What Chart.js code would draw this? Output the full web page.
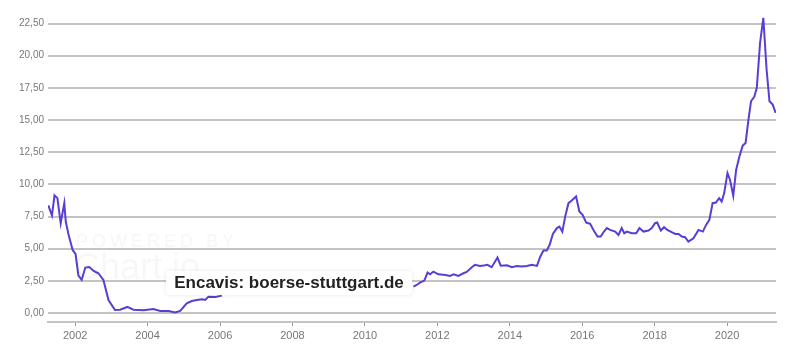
<!DOCTYPE html>
<html>
    <head>
        <title>Encavis Kursverlauf</title>
        <script src="https://cdn.jsdelivr.net/npm/chart.js@4.4.1/dist/chart.umd.min.js"></script>
        <style>
            body { margin: 0; background: #fff; font-family: "Liberation Sans", Arial, sans-serif; }
            #wrap { position: relative; width: 799px; height: 354px; }
            #source {
                position: absolute; left: 166px; top: 271px; width: 246px; height: 24px;
                background: #fff; box-shadow: 0 0 4px rgba(0,0,0,0.10); border-radius: 3px;
                font-weight: bold; font-size: 17px; color: #222; line-height: 24px; text-align: center;
            }
            #wm1 { position: absolute; left: 76px; top: 231px; font-size: 18px; letter-spacing: 4px; color: rgba(0,0,0,0.035); }
            #wm2 { position: absolute; left: 74px; top: 246px; font-size: 36px; color: rgba(0,0,0,0.03); }
        </style>
        <script type="text/javascript">
            // Encavis share price (EUR); null = no data (2006 - 2011)
            const years = [
                2001.26, 2001.36, 2001.43, 2001.51, 2001.60, 2001.70, 2001.74, 2001.82, 2001.93, 2002.01,
                2002.09, 2002.18, 2002.28, 2002.39, 2002.51, 2002.64, 2002.78, 2002.92, 2003.10, 2003.24,
                2003.44, 2003.61, 2003.89, 2004.16, 2004.35, 2004.58, 2004.76, 2004.90, 2005.08, 2005.22,
                2005.36, 2005.50, 2005.59, 2005.68, 2005.87, 2006.05,
                2008.50,
                2011.34, 2011.43, 2011.52, 2011.64, 2011.73, 2011.80, 2011.89, 2012.03, 2012.22, 2012.35,
                2012.45, 2012.58, 2012.72, 2012.81, 2012.95, 2013.04, 2013.18, 2013.32, 2013.38, 2013.50,
                2013.66, 2013.75, 2013.92, 2014.06, 2014.19, 2014.33, 2014.47, 2014.61, 2014.75, 2014.84,
                2014.93, 2015.02, 2015.10, 2015.19, 2015.30, 2015.37, 2015.45, 2015.53, 2015.62, 2015.71,
                2015.83, 2015.92, 2016.01, 2016.11, 2016.22, 2016.31, 2016.42, 2016.51, 2016.60, 2016.68,
                2016.77, 2016.91, 2017.00, 2017.09, 2017.16, 2017.23, 2017.37, 2017.49, 2017.58, 2017.69,
                2017.83, 2017.92, 2018.01, 2018.07, 2018.17, 2018.26, 2018.35, 2018.47, 2018.57, 2018.66,
                2018.75, 2018.84, 2018.93, 2019.07, 2019.21, 2019.33, 2019.42, 2019.51, 2019.60, 2019.69,
                2019.78, 2019.85, 2019.92, 2020.01, 2020.08, 2020.17, 2020.25, 2020.34, 2020.43, 2020.51,
                2020.59, 2020.66, 2020.75, 2020.82, 2020.91, 2021.00, 2021.09, 2021.17, 2021.26, 2021.34
            ];
            const prices = [
                8.36, 7.58, 9.14, 8.93, 6.98, 8.54, 7.11, 6.07, 4.90, 4.60,
                2.90, 2.57, 3.53, 3.58, 3.27, 3.09, 2.57, 1.01, 0.23, 0.26,
                0.47, 0.26, 0.21, 0.31, 0.16, 0.16, 0.05, 0.16, 0.75, 0.93,
                1.01, 1.07, 1.01, 1.27, 1.25, 1.35,
                null,
                2.05, 2.18, 2.36, 2.52, 3.14, 3.01, 3.22, 3.01, 2.96, 2.88,
                3.01, 2.88, 3.09, 3.19, 3.56, 3.74, 3.66, 3.71, 3.74, 3.56,
                4.31, 3.68, 3.71, 3.56, 3.66, 3.61, 3.66, 3.74, 3.66, 4.38,
                4.85, 4.85, 5.30, 6.15, 6.60, 6.72, 6.33, 7.50, 8.54, 8.75,
                9.06, 7.89, 7.63, 7.03, 6.93, 6.46, 5.94, 5.94, 6.33, 6.60,
                6.46, 6.33, 6.07, 6.60, 6.20, 6.33, 6.20, 6.20, 6.60, 6.33,
                6.41, 6.60, 6.98, 7.03, 6.41, 6.67, 6.46, 6.28, 6.15, 6.15,
                5.94, 5.89, 5.55, 5.81, 6.46, 6.33, 6.85, 7.24, 8.54, 8.59,
                8.93, 8.67, 9.32, 10.88, 10.36, 9.11, 11.14, 12.17, 13.01, 13.22,
                15.03, 16.46, 16.80, 17.50, 21.00, 22.95, 18.93, 16.46, 16.20, 15.55
            ];
            const xTicks = [2002, 2004, 2006, 2008, 2010, 2012, 2014, 2016, 2018, 2020];
            const yTicks = [0, 2.5, 5, 7.5, 10, 12.5, 15, 17.5, 20, 22.5];

            const drawChart = () => {
                const points = years.map((yr, i) => ({ x: yr, y: prices[i] }));

                new Chart(document.getElementById('chartCanvas'), {
                    type: 'line',
                    data: {
                        datasets: [{
                            label: 'Encavis',
                            data: points,
                            borderColor: '#5b3dd4',
                            borderWidth: 2,
                            pointRadius: 0,
                            tension: 0,
                            spanGaps: false
                        }]
                    },
                    options: {
                        responsive: true,
                        maintainAspectRatio: false,
                        animation: false,
                        layout: { padding: { top: 12, right: 23, left: 0, bottom: 0 } },
                        plugins: { legend: { display: false }, tooltip: { enabled: false } },
                        scales: {
                            x: {
                                type: 'linear',
                                min: 2001.25,
                                max: 2021.35,
                                afterBuildTicks: s => { s.ticks = xTicks.map(v => ({ value: v })); },
                                afterFit: s => { s.height = 32; },
                                grid: { drawOnChartArea: false, tickLength: 4, color: '#999' },
                                border: { display: true, color: '#c4c4c4', width: 2 },
                                ticks: {
                                    color: '#777', padding: 3, maxRotation: 0, autoSkip: false,
                                    font: { size: 11, family: '"Liberation Sans", Arial, sans-serif' },
                                    callback: v => String(v)
                                }
                            },
                            y: {
                                type: 'linear',
                                min: -0.7,
                                max: 23.4,
                                afterBuildTicks: s => { s.ticks = yTicks.map(v => ({ value: v })); },
                                afterFit: s => { s.width = 48; },
                                grid: { color: '#c4c4c4', lineWidth: 2, drawTicks: false },
                                border: { display: false },
                                ticks: {
                                    color: '#777', padding: 4,
                                    font: { size: 10, family: '"Liberation Sans", Arial, sans-serif' },
                                    callback: v => v.toFixed(2).replace('.', ',')
                                }
                            }
                        }
                    }
                });
            };
            window.addEventListener('load', drawChart);
        </script>
    </head>
    <body>
        <div id="wrap">
            <canvas id="chartCanvas"></canvas>
            <div id="wm1">POWERED BY</div>
            <div id="wm2">Chart.io</div>
            <div id="source">Encavis: boerse-stuttgart.de</div>
        </div>
    </body>
</html>
